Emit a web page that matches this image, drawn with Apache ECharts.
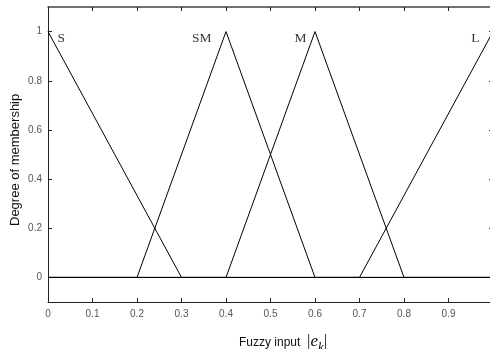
<!DOCTYPE html>
<html><head><meta charset="utf-8">
<script src="https://cdn.jsdelivr.net/npm/echarts@6/dist/echarts.min.js"></script>
<style>html,body{margin:0;padding:0;background:#fff}#c{width:490px;height:349px}</style>
</head><body><div id="c"></div>
<script>
const xTicks = [0, 0.1, 0.2, 0.3, 0.4, 0.5, 0.6, 0.7, 0.8, 0.9, 1];
const yTicks = [0, 0.2, 0.4, 0.6, 0.8, 1];
const sX = [0, 0.3, 1];           const sY = [1, 0, 0];
const smX = [0, 0.2, 0.4, 0.6, 1]; const smY = [0, 0, 1, 0, 0];
const mX = [0, 0.4, 0.6, 0.8, 1];  const mY = [0, 0, 1, 0, 0];
const lX = [0, 0.7, 1];           const lY = [0, 0, 1];
const names = ['S', 'SM', 'M', 'L'];

const chart = echarts.init(document.getElementById('c'), null, {renderer: 'canvas'});
const serif = 'Liberation Serif';
const sans = 'Liberation Sans';
function mk(xs, ys, name) {
  return {
    type: 'line', name: name, symbol: 'none', animation: false,
    lineStyle: {color: '#000', width: 1},
    emphasis: {disabled: true},
    data: xs.map((x, i) => [x, ys[i]]),
    xAxisIndex: 0, yAxisIndex: 0
  };
}
function peak(xs, ys) { const i = ys.indexOf(1); return [xs[i], ys[i]]; }
const labelStyle = [
  {position: 'right', offset: [9, 7]},
  {position: 'left', offset: [-14, 7]},
  {position: 'left', offset: [-8, 7]},
  {position: 'left', offset: [-13, 7]}
];
const peaks = [peak(sX, sY), peak(smX, smY), peak(mX, mY), peak(lX, lY)];
const axisCommon = {
  type: 'value', splitLine: {show: false},
  axisLine: {show: true, onZero: false, lineStyle: {color: '#222', width: 1}},
};
chart.setOption({
  animation: false,
  grid: {left: 48, top: 7, width: 445, height: 295, containLabel: false, outerBoundsMode: 'none'},
  xAxis: [
    Object.assign({}, axisCommon, {position: 'bottom', min: 0, max: 1, interval: 0.1,
      axisTick: {show: true, inside: true, length: 4, lineStyle: {color: '#222'}},
      axisLabel: {show: true, margin: 7, color: '#555', fontFamily: sans, fontSize: 10,
        formatter: v => String(Math.round(v * 10) / 10)}}),
    Object.assign({}, axisCommon, {position: 'top', min: 0, max: 1, interval: 0.1,
      axisLine: {show: true, onZero: false, lineStyle: {color: '#444', width: 1.5}},
      axisTick: {show: true, inside: true, length: 4, lineStyle: {color: '#222'}},
      axisLabel: {show: false}})
  ],
  yAxis: [
    Object.assign({}, axisCommon, {position: 'left', min: -0.1, max: 1.1,
      axisTick: {show: true, inside: true, length: 4, customValues: yTicks, lineStyle: {color: '#222'}},
      axisLabel: {show: true, margin: 6, color: '#555', fontFamily: sans, fontSize: 10, customValues: yTicks,
        formatter: v => String(Math.round(v * 10) / 10)}}),
    Object.assign({}, axisCommon, {position: 'right', min: -0.1, max: 1.1,
      axisTick: {show: true, inside: true, length: 4, customValues: yTicks, lineStyle: {color: '#222'}},
      axisLabel: {show: false}})
  ],
  graphic: [
    {type: 'text', x: 239, y: 329, style: {
      text: '{a|Fuzzy input  }{b||}{c|e}{d|k}{b||}',
      rich: {
        a: {fontFamily: sans, fontSize: 12, fill: '#111', padding: [2, 0, 0, 0]},
        b: {fontFamily: serif, fontSize: 17, fill: '#111'},
        c: {fontFamily: serif, fontStyle: 'italic', fontSize: 17, fill: '#111'},
        d: {fontFamily: serif, fontStyle: 'italic', fontSize: 13, fill: '#111', padding: [12, 0, 0, 0]}
      }
    }},
    {type: 'text', rotation: Math.PI / 2, x: 9, y: 226, style: {
      text: 'Degree of membership', fontFamily: sans, fontSize: 13, fill: '#111'
    }}
  ],
  series: [
    mk(sX, sY, names[0]),
    mk(smX, smY, names[1]),
    mk(mX, mY, names[2]),
    mk(lX, lY, names[3]),
    {
      type: 'scatter', symbolSize: 1, silent: true, animation: false,
      itemStyle: {color: 'rgba(0,0,0,0)'},
      data: peaks.map((p, i) => ({
        value: p,
        label: Object.assign({show: true, formatter: names[i], distance: 0,
          fontFamily: serif, fontSize: 13.5, color: '#000'}, labelStyle[i])
      }))
    }
  ]
});
</script></body></html>
